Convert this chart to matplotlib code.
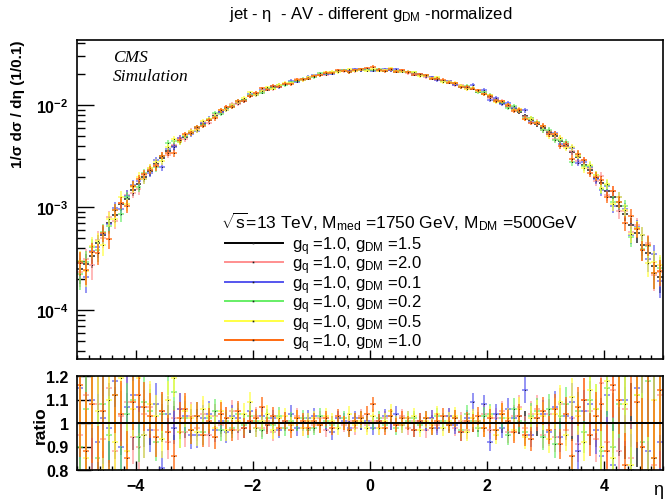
import numpy as np
import matplotlib
matplotlib.use("Agg")
import matplotlib.pyplot as plt
from matplotlib.lines import Line2D
from matplotlib.ticker import MultipleLocator, LogLocator, NullFormatter, FixedLocator

plt.rcParams['font.family'] = ['Liberation Sans', 'DejaVu Sans']
plt.rcParams['mathtext.fontset'] = 'custom'
plt.rcParams['mathtext.rm'] = 'Liberation Sans'
plt.rcParams['mathtext.it'] = 'Liberation Sans:italic'
plt.rcParams['mathtext.bf'] = 'Liberation Sans:bold'
plt.rcParams['axes.unicode_minus'] = True

# ---------------- data ----------------
eta_centers = np.round(np.arange(-4.95, 5.0, 0.1), 2)   # 100 bins of width 0.1
bin_half_width = 0.05
n_events = 50000  # sample size used for the statistical error bars

# reference sample (g_DM = 1.5), 1/sigma dsigma/deta per 0.1 bin, in units of 1e-2
black_vals = [
    0.025, 0.028, 0.034, 0.045, 0.054, 0.070, 0.084, 0.107, 0.122, 0.148,
    0.168, 0.198, 0.225, 0.268, 0.305, 0.355, 0.395, 0.450, 0.488, 0.545,
    0.592, 0.658, 0.709, 0.787, 0.850, 0.926, 0.978, 1.050, 1.118, 1.214,
    1.280, 1.362, 1.428, 1.490, 1.534, 1.601, 1.648, 1.720, 1.771, 1.848,
    1.899, 1.975, 2.022, 2.090, 2.120, 2.152, 2.155, 2.178, 2.180, 2.200,
    2.190, 2.190, 2.165, 2.168, 2.140, 2.133, 2.078, 2.035, 1.964, 1.910,
    1.836, 1.783, 1.708, 1.660, 1.590, 1.545, 1.479, 1.438, 1.351, 1.292,
    1.202, 1.130, 1.041, 0.987, 0.917, 0.860, 0.776, 0.719, 0.648, 0.600,
    0.540, 0.496, 0.441, 0.402, 0.348, 0.312, 0.262, 0.230, 0.194, 0.172,
    0.144, 0.126, 0.104, 0.087, 0.068, 0.056, 0.043, 0.036, 0.027, 0.021,
]

# ratio to the reference sample, in percent deviation from 1
red_dev = [
    -5, 12, -20, 8, -7, 15, -12, 3, 9, -6,
    -10, 4, 7, -3, 5, -8, 2, 6, -4, 3,
    -2, 4, -5, 3, -1, 2, 5, -3, -2, 1,
    3, -2, 1, -4, 2, 0, -1, 3, -2, 1,
    -1, 2, -3, 0, 2, -1, 1, -2, 3, -1,
    1, -2, 2, 0, -1, 3, -2, 1, 0, -3,
    2, -1, 0, 3, -2, 1, -3, 2, 1, 4,
    -3, 2, 5, -4, 3, 7, -2, 4, 6, -5,
    4, -6, 8, -3, 2, -9, 10, 5, -7, 17,
    -8, 14, -12, 6, -15, 20, -10, 25, -18, 12,
]
blue_dev = [
    15, -25, 10, -8, 2, -2, 18, -10, 7, 12,
    7, -5, -3, 8, -19, 4, -2, 6, 3, -5,
    -5, 2, 4, -3, 1, -4, 3, 2, -2, 5,
    -2, 3, -1, 2, -3, 1, 4, -2, 0, 2,
    3, -1, 0, -4, 2, 1, -2, 2, 0, 1,
    -2, 1, 3, 0, 4, -1, 2, -3, 1, 0,
    2, -2, 0, 3, -1, -4, 2, 9, 1, 8,
    -8, 4, -2, 6, 2, 3, 14, -5, 2, 4,
    -4, 7, -6, 3, 9, -12, 5, 8, -3, -14,
    12, -18, 22, 10, -20, 15, 25, -12, 30, -8,
]
green_dev = [
    -10, 6, 20, -15, 8, -5, 12, -20, 4, 10,
    -6, 9, 5, -8, 4, 20, 13, -4, 2, -3,
    3, -4, 2, 5, -3, 1, -2, 4, -1, 3,
    1, -3, 2, -1, 3, -2, 1, 0, 2, -3,
    -2, 3, 1, -1, 0, 2, -3, 1, 2, 0,
    0, 2, -1, 3, -2, 0, 1, 2, -1, 2,
    -2, 3, 1, -1, 2, -3, 4, 1, -2, 3,
    4, -3, 2, -5, 6, 1, -4, 3, 5, -6,
    6, -9, 3, 8, -20, 5, -4, 10, 6, -12,
    15, -10, 8, 20, -25, 12, -8, 18, -15, 22,
]
yellow_dev = [
    20, -15, 25, 5, -20, 10, -8, 19, -12, 6,
    19, -5, 8, 3, -7, 10, 19, -4, 5, 2,
    -4, 6, 3, -2, 5, -3, 2, 1, 4, 9,
    -2, 1, 4, -3, 2, 3, -1, 2, -2, 1,
    2, -1, 3, 1, -2, 0, 4, -1, 1, -2,
    3, -2, 1, 5, 0, -1, 2, 3, -3, 1,
    -1, 4, -2, 1, 3, 0, -4, 2, 1, -2,
    3, -5, 4, 2, -3, 6, -6, 2, 4, 3,
    -7, 4, 9, -5, 11, 3, -8, 14, 6, -10,
    18, -15, 22, 8, -18, 12, 25, -20, 10, 30,
]
orange_dev = [
    16, -12, 8, -20, 5, -30, 12, 4, -15, 9,
    12, 7, 3, -6, 5, -4, -14, 2, 6, -3,
    3, -5, 1, -6, 4, 2, -3, 5, -2, 1,
    2, 7, -1, 3, -2, 1, -3, 2, 1, -2,
    1, -1, 2, -2, 3, 0, -3, 1, 2, 4,
    8, 1, -2, 3, -1, 2, 0, -3, 1, 2,
    -2, 1, 3, -1, 2, -4, 1, 0, 3, -2,
    2, -3, 4, 1, -4, 3, -5, -7, 2, 5,
    -3, 6, -9, 4, -14, 7, 10, -5, 3, 8,
    -12, 16, 10, -18, 22, 9, -10, 20, -15, 14,
]

series_labels = [
    r'g$_{\mathrm{q}}$ =1.0, g$_{\mathrm{DM}}$ =1.5',
    r'g$_{\mathrm{q}}$ =1.0, g$_{\mathrm{DM}}$ =2.0',
    r'g$_{\mathrm{q}}$ =1.0, g$_{\mathrm{DM}}$ =0.1',
    r'g$_{\mathrm{q}}$ =1.0, g$_{\mathrm{DM}}$ =0.2',
    r'g$_{\mathrm{q}}$ =1.0, g$_{\mathrm{DM}}$ =0.5',
    r'g$_{\mathrm{q}}$ =1.0, g$_{\mathrm{DM}}$ =1.0',
]
series_colors = ['#000000', '#ff8f8f', '#5555ee', '#66ee66', '#ffff44', '#ff6a10']
series_alpha = [0.85, 0.8, 0.8, 0.8, 0.85, 0.9]
ratio_devs = [[0] * 100, red_dev, blue_dev, green_dev, yellow_dev, orange_dev]

# ---------------- figure ----------------
W, H = 665, 502
fig = plt.figure(figsize=(W / 100, H / 100), dpi=100)

def fx(x):
    return x / W

def fy(y):
    return 1 - y / H

ax = fig.add_axes([fx(77), fy(360), fx(663) - fx(77), fy(41) - fy(360)])
axr = fig.add_axes([fx(77), fy(471), fx(663) - fx(77), fy(377) - fy(471)])

eta = np.asarray(eta_centers)
base = np.asarray(black_vals) * 1e-2

for lab, col, a, dev in zip(series_labels, series_colors, series_alpha, ratio_devs):
    ratio = 1 + np.asarray(dev) / 100.0
    vals = base * ratio
    err = np.sqrt(vals / n_events)
    rel = err / vals
    ax.errorbar(eta, vals, xerr=bin_half_width, yerr=err, fmt='none',
                ecolor=col, elinewidth=1.1, capsize=0, alpha=a)
    ax.plot(eta, vals, ls='none', marker='s', ms=0.7, mew=0, color='#222222', alpha=0.8)
    axr.errorbar(eta, ratio, xerr=bin_half_width, yerr=ratio * rel, fmt='none',
                 ecolor=col, elinewidth=1.1, capsize=0, alpha=a)
    axr.plot(eta, ratio, ls='none', marker='s', ms=0.7, mew=0, color='#222222', alpha=0.8)

axr.axhline(1.0, color='black', lw=1.4, zorder=10)

# ---- top panel axes ----
ax.set_yscale('log')
ax.set_xlim(-5, 5)
ax.set_ylim(3.33e-5, 0.043)
ax.yaxis.set_major_locator(FixedLocator([1e-4, 1e-3, 1e-2]))
ax.set_yticklabels([r'$\mathbf{10^{-4}}$', r'$\mathbf{10^{-3}}$', r'$\mathbf{10^{-2}}$'])
ax.yaxis.set_minor_locator(LogLocator(base=10, subs=np.arange(2, 10)))
ax.yaxis.set_minor_formatter(NullFormatter())
ax.xaxis.set_major_locator(MultipleLocator(2))
ax.xaxis.set_minor_locator(MultipleLocator(0.2))
ax.tick_params(axis='x', which='both', labelbottom=False, direction='in',
               top=False, bottom=True)
ax.tick_params(axis='x', which='major', length=6.5, width=1)
ax.tick_params(axis='x', which='minor', length=3.2, width=1)
ax.tick_params(axis='y', which='major', direction='in', length=12, width=1,
               labelsize=11.5, pad=6, right=False)
ax.tick_params(axis='y', which='minor', direction='in', length=6, width=1, right=False)
for s in ax.spines.values():
    s.set_linewidth(1.2)

# ---- ratio panel axes ----
axr.set_xlim(-5, 5)
axr.set_ylim(0.8, 1.2)
axr.yaxis.set_major_locator(FixedLocator([0.8, 0.9, 1.0, 1.1, 1.2]))
axr.set_yticklabels(['0.8', '0.9', '1', '1.1', '1.2'], fontweight='bold')
axr.xaxis.set_major_locator(MultipleLocator(2))
axr.xaxis.set_minor_locator(MultipleLocator(0.2))
axr.set_xticks([-4, -2, 0, 2, 4])
axr.set_xticklabels(['\u22124', '\u22122', '0', '2', '4'], fontweight='bold')
axr.tick_params(axis='x', which='major', direction='in', length=6.5, width=1,
                labelsize=11.5, pad=6, top=False)
axr.tick_params(axis='x', which='minor', direction='in', length=3.2, width=1, top=False)
axr.tick_params(axis='y', which='major', direction='in', length=10, width=1,
                labelsize=11.5, pad=6, right=False)
for s in axr.spines.values():
    s.set_linewidth(1.2)

# ---- texts ----
fig.text(fx(371), fy(14), r'jet - $\mathrm{\eta}$  - AV - different g$_{\mathrm{DM}}$ -normalized',
         ha='center', va='center', fontsize=12)
fig.text(fx(18), fy(40), '1/\u03c3 d\u03c3 / d\u03b7 (1/0.1)', rotation=90,
         ha='center', va='top', fontsize=11, fontweight='bold')
fig.text(fx(40), fy(425), 'ratio', rotation=90, ha='center', va='center',
         fontsize=12.5, fontweight='bold')
fig.text(fx(663), fy(491), '\u03b7', ha='right', va='center', fontsize=13)
fig.text(fx(113), fy(62), 'CMS', fontfamily='Liberation Serif', style='italic',
         fontsize=12.5, ha='left', va='baseline')
fig.text(fx(113), fy(81), 'Simulation', fontfamily='Liberation Serif', style='italic',
         fontsize=12.5, ha='left', va='baseline')

# ---- legend ----
fig.text(fx(221), fy(228),
         r'$\sqrt{\mathrm{s}}$=13 TeV, M$_{\mathrm{med}}$ =1750 GeV, M$_{\mathrm{DM}}$ =500GeV',
         ha='left', va='baseline', fontsize=12.5)
row_y = [244, 263, 283, 302, 322, 341]
for yy, lab, col in zip(row_y, series_labels, series_colors):
    fig.add_artist(Line2D([fx(225), fx(283)], [fy(yy), fy(yy)], color=col, lw=1.4,
                          transform=fig.transFigure))
    fig.add_artist(Line2D([fx(253)], [fy(yy)], marker='s', ms=1.2, mew=0, color='#222222',
                          transform=fig.transFigure))
    fig.text(fx(292), fy(yy + 6), lab, ha='left', va='baseline', fontsize=12)

fig.savefig('out.png', dpi=100)
